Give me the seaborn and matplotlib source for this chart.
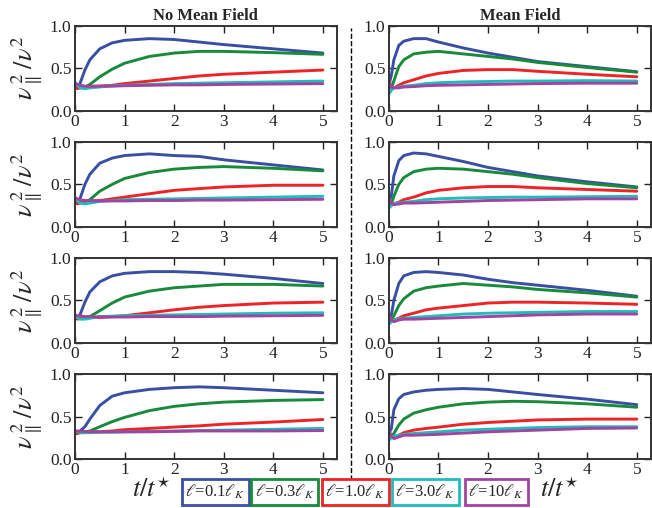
import numpy as np
import pandas as pd
import seaborn as sns
import matplotlib
matplotlib.use("Agg")
import matplotlib.pyplot as plt
from matplotlib.lines import Line2D

sns.set_theme(style="ticks")
plt.rcParams["font.family"] = ["Liberation Serif", "DejaVu Serif"]
plt.rcParams["mathtext.fontset"] = "stix"

# time grid (t/t*)
t = [0, 0.05, 0.1, 0.2, 0.3, 0.5, 0.75, 1, 1.5, 2, 2.5, 3, 4, 5]

labels = [r"$\ell$=0.1$\ell_K$", r"$\ell$=0.3$\ell_K$", r"$\ell$=1.0$\ell_K$",
          r"$\ell$=3.0$\ell_K$", r"$\ell$=10$\ell_K$"]
colors = ["#3a4fa3", "#178a3c", "#ee2326", "#1fbcbc", "#a144a1"]
columns = ["No Mean Field", "Mean Field"]

# No Mean Field panels (rows 1-4), one list per ell
nmf1 = [
    [0.30, 0.28, 0.32, 0.48, 0.60, 0.73, 0.80, 0.83, 0.85, 0.84, 0.81, 0.78, 0.73, 0.68],
    [0.30, 0.29, 0.28, 0.28, 0.31, 0.40, 0.49, 0.56, 0.64, 0.68, 0.70, 0.70, 0.685, 0.665],
    [0.30, 0.26, 0.27, 0.28, 0.29, 0.29, 0.30, 0.32, 0.35, 0.38, 0.41, 0.43, 0.455, 0.48],
    [0.34, 0.30, 0.27, 0.26, 0.27, 0.28, 0.295, 0.30, 0.31, 0.32, 0.325, 0.33, 0.34, 0.35],
    [0.32, 0.31, 0.30, 0.29, 0.285, 0.29, 0.29, 0.295, 0.30, 0.305, 0.305, 0.31, 0.315, 0.32],
]
nmf2 = [
    [0.30, 0.29, 0.33, 0.50, 0.62, 0.75, 0.81, 0.84, 0.86, 0.84, 0.83, 0.79, 0.73, 0.67],
    [0.30, 0.29, 0.29, 0.29, 0.32, 0.42, 0.50, 0.57, 0.64, 0.68, 0.70, 0.71, 0.69, 0.66],
    [0.30, 0.27, 0.28, 0.29, 0.30, 0.31, 0.33, 0.35, 0.39, 0.43, 0.45, 0.47, 0.49, 0.49],
    [0.35, 0.31, 0.28, 0.27, 0.28, 0.30, 0.31, 0.32, 0.325, 0.33, 0.335, 0.34, 0.35, 0.36],
    [0.34, 0.33, 0.32, 0.31, 0.31, 0.305, 0.305, 0.305, 0.31, 0.31, 0.315, 0.315, 0.32, 0.325],
]
nmf3 = [
    [0.31, 0.30, 0.33, 0.48, 0.60, 0.72, 0.79, 0.82, 0.84, 0.84, 0.83, 0.81, 0.76, 0.70],
    [0.31, 0.30, 0.30, 0.30, 0.31, 0.38, 0.47, 0.54, 0.61, 0.65, 0.67, 0.69, 0.69, 0.67],
    [0.30, 0.28, 0.29, 0.30, 0.30, 0.30, 0.31, 0.32, 0.355, 0.39, 0.42, 0.44, 0.47, 0.48],
    [0.33, 0.30, 0.28, 0.28, 0.29, 0.31, 0.315, 0.32, 0.325, 0.33, 0.335, 0.34, 0.35, 0.355],
    [0.33, 0.32, 0.32, 0.31, 0.31, 0.305, 0.305, 0.305, 0.31, 0.31, 0.31, 0.315, 0.32, 0.325],
]
nmf4 = [
    [0.32, 0.32, 0.33, 0.38, 0.47, 0.63, 0.74, 0.78, 0.82, 0.84, 0.85, 0.84, 0.81, 0.78],
    [0.32, 0.32, 0.32, 0.32, 0.33, 0.38, 0.44, 0.49, 0.57, 0.62, 0.65, 0.67, 0.69, 0.70],
    [0.30, 0.30, 0.31, 0.31, 0.32, 0.32, 0.33, 0.345, 0.36, 0.376, 0.39, 0.41, 0.435, 0.465],
    [0.33, 0.32, 0.31, 0.31, 0.31, 0.315, 0.315, 0.32, 0.325, 0.33, 0.335, 0.34, 0.35, 0.36],
    [0.33, 0.33, 0.325, 0.325, 0.32, 0.32, 0.32, 0.32, 0.32, 0.325, 0.33, 0.33, 0.33, 0.335],
]

# Mean Field panels
mf1 = [
    [0.30, 0.42, 0.60, 0.77, 0.82, 0.85, 0.85, 0.81, 0.74, 0.68, 0.63, 0.58, 0.52, 0.46],
    [0.30, 0.27, 0.35, 0.52, 0.60, 0.67, 0.69, 0.70, 0.67, 0.64, 0.61, 0.57, 0.51, 0.455],
    [0.33, 0.28, 0.27, 0.30, 0.33, 0.365, 0.41, 0.44, 0.475, 0.485, 0.485, 0.465, 0.43, 0.40],
    [0.20, 0.24, 0.27, 0.28, 0.29, 0.30, 0.32, 0.33, 0.34, 0.345, 0.35, 0.35, 0.355, 0.35],
    [0.35, 0.29, 0.27, 0.27, 0.28, 0.285, 0.295, 0.30, 0.305, 0.31, 0.315, 0.32, 0.325, 0.325],
]
mf2 = [
    [0.30, 0.37, 0.60, 0.78, 0.84, 0.87, 0.86, 0.83, 0.77, 0.70, 0.65, 0.60, 0.53, 0.47],
    [0.30, 0.27, 0.36, 0.50, 0.58, 0.65, 0.68, 0.69, 0.68, 0.65, 0.62, 0.58, 0.51, 0.46],
    [0.33, 0.28, 0.27, 0.29, 0.32, 0.35, 0.40, 0.43, 0.46, 0.475, 0.475, 0.46, 0.44, 0.42],
    [0.22, 0.25, 0.28, 0.28, 0.29, 0.30, 0.32, 0.33, 0.34, 0.345, 0.35, 0.35, 0.355, 0.36],
    [0.33, 0.28, 0.26, 0.27, 0.28, 0.28, 0.285, 0.29, 0.30, 0.31, 0.315, 0.32, 0.33, 0.33],
]
mf3 = [
    [0.30, 0.33, 0.50, 0.70, 0.79, 0.83, 0.84, 0.83, 0.80, 0.75, 0.71, 0.68, 0.62, 0.55],
    [0.30, 0.27, 0.32, 0.44, 0.52, 0.61, 0.65, 0.67, 0.70, 0.68, 0.66, 0.63, 0.59, 0.54],
    [0.30, 0.27, 0.27, 0.29, 0.32, 0.35, 0.39, 0.41, 0.44, 0.47, 0.48, 0.48, 0.47, 0.455],
    [0.22, 0.25, 0.27, 0.28, 0.29, 0.30, 0.31, 0.32, 0.34, 0.35, 0.355, 0.36, 0.37, 0.37],
    [0.33, 0.27, 0.25, 0.27, 0.28, 0.28, 0.285, 0.29, 0.30, 0.31, 0.32, 0.33, 0.34, 0.34],
]
mf4 = [
    [0.30, 0.36, 0.58, 0.71, 0.76, 0.79, 0.81, 0.82, 0.83, 0.82, 0.79, 0.76, 0.705, 0.64],
    [0.30, 0.27, 0.30, 0.40, 0.47, 0.54, 0.58, 0.61, 0.65, 0.67, 0.68, 0.675, 0.65, 0.61],
    [0.30, 0.27, 0.26, 0.28, 0.31, 0.34, 0.36, 0.375, 0.41, 0.43, 0.445, 0.46, 0.47, 0.47],
    [0.22, 0.25, 0.27, 0.28, 0.29, 0.30, 0.31, 0.32, 0.34, 0.35, 0.36, 0.37, 0.38, 0.38],
    [0.34, 0.27, 0.24, 0.26, 0.28, 0.28, 0.285, 0.29, 0.305, 0.32, 0.33, 0.34, 0.36, 0.365],
]

panels = [[nmf1, mf1], [nmf2, mf2], [nmf3, mf3], [nmf4, mf4]]

fig, axes = plt.subplots(4, 2, figsize=(6.52, 5.08), dpi=100)
fig.subplots_adjust(left=0.115, right=0.998, bottom=0.0965, top=0.949,
                    wspace=0.199, hspace=0.368)

for r in range(4):
    for c in range(2):
        ax = axes[r, c]
        rows = []
        for lab, vals in zip(labels, panels[r][c]):
            for tt, v in zip(t, vals):
                rows.append({"t": tt, "v": v, "ell": lab})
        df = pd.DataFrame(rows)
        sns.lineplot(data=df, x="t", y="v", hue="ell", palette=colors,
                     linewidth=2.1, ax=ax, legend=False)
        ax.set_xlim(0, 5.28)
        ax.set_ylim(0, 1)
        ax.set_xticks([0, 1, 2, 3, 4, 5])
        ax.set_yticks([0, 0.5, 1.0])
        ax.set_yticklabels(["0.0", "0.5", "1.0"])
        ax.tick_params(direction="in", top=True, right=True, length=5, width=1,
                       labelsize=12.5, colors="#222222", pad=2.5)
        for sp in ax.spines.values():
            sp.set_linewidth(1.4)
            sp.set_color("#333333")
        ax.set_xlabel("")
        ax.set_ylabel("")
        if c == 0:
            ax.set_ylabel(r"$\nu_\parallel^{\,2}\,/\nu^{2}$", fontsize=19)
            ax.yaxis.set_label_coords(-0.115, 0.5)
        if r == 0:
            ax.set_title(columns[c], fontsize=12, fontweight="bold", pad=4)
        if r == 3:
            ax.set_xlabel(r"$t/t^{\star}$", fontsize=19)
            ax.xaxis.set_label_coords(0.29 if c == 0 else 0.65, -0.215)

# dashed separator between the two columns
fig.add_artist(Line2D([0.538, 0.538], [0.055, 0.945], transform=fig.transFigure,
                      color="black", lw=1.0, ls="--"))

# five separately boxed legend entries
xs = [0.330, 0.437, 0.545, 0.652, 0.761]
for lab, col, x in zip(labels, colors, xs):
    h = Line2D([], [], color=col)
    leg = fig.legend([h], [lab], loc="center", bbox_to_anchor=(x, 0.031),
                     handlelength=0, handletextpad=0, fontsize=12,
                     fancybox=False, framealpha=1, borderpad=0.22,
                     borderaxespad=0)
    leg.get_frame().set_edgecolor(col)
    leg.get_frame().set_linewidth(2)

fig.savefig("out.png", dpi=100)
